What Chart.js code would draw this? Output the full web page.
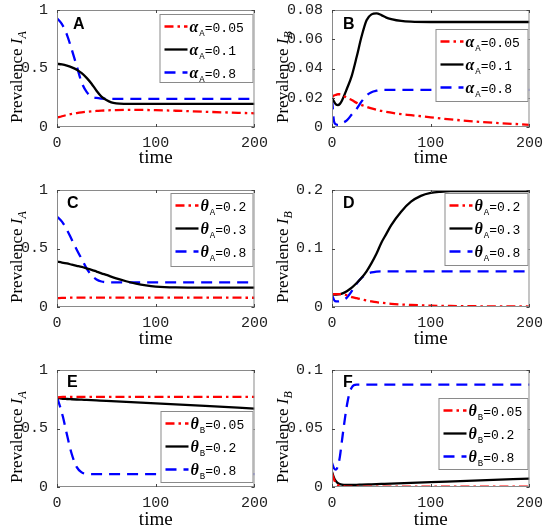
<!DOCTYPE html>
<html>
<head>
<meta charset="utf-8">
<script src="https://cdn.jsdelivr.net/npm/chart.js@4.4.0/dist/chart.umd.min.js"></script>
<style>
  body { margin: 0; background: #fff; width: 550px; height: 531px; position: relative; overflow: hidden; }
  canvas { position: absolute; }
</style>
</head>
<body>
<canvas id="cA" width="275" height="169" style="left:0;top:0"></canvas>
<canvas id="cB" width="275" height="169" style="left:275px;top:0"></canvas>
<canvas id="cC" width="275" height="175" style="left:0;top:175px"></canvas>
<canvas id="cD" width="275" height="175" style="left:275px;top:175px"></canvas>
<canvas id="cE" width="275" height="181" style="left:0;top:350px"></canvas>
<canvas id="cF" width="275" height="181" style="left:275px;top:350px"></canvas>
<script>
// time axis
var xTicks = [0, 100, 200];

// panel A : alpha_A, prevalence I_A
var tA = [0, 5, 10, 15, 20, 25, 30, 35, 40, 45, 50, 55, 60, 70, 80, 100, 120, 150, 200];
var aRed = [.080, .092, .103, .112, .119, .125, .130, .134, .137, .140, .142, .144, .145, .146, .146, .144, .139, .130, .117];
var aBlack = [.54, .535, .525, .51, .49, .46, .42, .37, .31, .26, .23, .21, .202, .198, .197, .197, .197, .197, .197];
var aBlue = [.93, .88, .79, .66, .52, .38, .30, .26, .248, .243, .241, .24, .24, .24, .24, .24, .24, .24, .24];

// panel B : alpha_A, prevalence I_B
var tB = [0, 2, 4, 6, 8, 10, 15, 20, 25, 30, 35, 40, 45, 50, 55, 60, 70, 80, 100, 120, 150, 200];
var bRed = [.0205, .0215, .022, .0224, .0224, .022, .020, .0185, .0165, .015, .0138, .0127, .0118, .011, .0104, .0098, .0088, .0081, .0066, .0052, .0035, .0015];
var bBlack = [.020, .0175, .0155, .015, .0158, .018, .026, .035, .048, .062, .073, .077, .0777, .0765, .0748, .0738, .0725, .072, .0718, .0718, .0718, .0718];
var bBlue = [.0196, .004, .0018, .0014, .0016, .0025, .0045, .0085, .0125, .0175, .0215, .0238, .0248, .0253, .0254, .0254, .0254, .0254, .0254, .0254, .0254, .0254];

// panel C : theta_A, prevalence I_A
var tC = [0, 5, 10, 15, 20, 25, 30, 35, 40, 45, 50, 60, 70, 80, 90, 100, 120, 150, 200];
var cRed = [.076, .078, .079, .08, .08, .08, .08, .08, .08, .08, .08, .08, .08, .08, .08, .08, .08, .08, .079];
var cBlack = [.387, .38, .372, .362, .352, .342, .33, .318, .303, .288, .274, .245, .22, .2, .185, .175, .167, .165, .165];
var cBlue = [.772, .73, .66, .575, .49, .41, .33, .27, .235, .218, .212, .21, .21, .21, .21, .21, .21, .21, .21];

// panel D : theta_A, prevalence I_B
var tD = [0, 3, 6, 10, 15, 20, 25, 30, 35, 40, 45, 50, 55, 60, 70, 80, 90, 100, 110, 120, 150, 200];
var dRed = [.0217, .022, .022, .022, .020, .017, .015, .013, .011, .0095, .0082, .0072, .0063, .0055, .0043, .0035, .0028, .0023, .002, .0017, .0012, .0008];
var dBlack = [.0217, .021, .0215, .023, .027, .033, .041, .05, .061, .075, .091, .11, .125, .14, .163, .18, .19, .195, .197, .198, .198, .198];
var dBlue = [.0205, .01, .0095, .011, .016, .027, .04, .05, .056, .059, .0605, .061, .061, .061, .061, .061, .061, .061, .061, .061, .061, .061];

// panel E : theta_B, prevalence I_A
var tE = [0, 3, 6, 10, 15, 20, 25, 30, 40, 50, 100, 150, 200];
var eRed = [.765, .768, .77, .771, .771, .771, .771, .771, .771, .771, .771, .771, .771];
var eBlack = [.765, .758, .754, .752, .75, .748, .746, .744, .74, .736, .715, .693, .67];
var eBlue = [.77, .69, .6, .45, .28, .17, .125, .112, .11, .11, .11, .11, .11];

// panel F : theta_B, prevalence I_B
var tF = [0, 2, 4, 6, 8, 10, 12, 14, 16, 18, 20, 22, 25, 30, 40, 50, 100, 150, 200];
var fRed = [.012, .0065, .0032, .0016, .0009, .0006, .0005, .0004, .0004, .0004, .0004, .0004, .0004, .0004, .0004, .0004, .0004, .0003, .0003];
var fBlack = [.013, .008, .005, .0032, .0024, .002, .0018, .0017, .0017, .0017, .0018, .0018, .0019, .002, .0023, .0026, .0041, .0056, .0072];
var fBlue = [.0205, .016, .0148, .018, .026, .039, .052, .064, .074, .081, .085, .087, .0875, .0875, .0875, .0875, .0875, .0875, .0875];

// parameter values in the legends
var alphaA = ['0.05', '0.1', '0.8'];
var thetaA = ['0.2', '0.3', '0.8'];
var thetaB = ['0.05', '0.2', '0.8'];

// y ticks
var ticksIA = [0, 0.5, 1];
var labelsIA = ['0', '0.5', '1'];
var ticksB1 = [0, 0.02, 0.04, 0.06, 0.08];
var labelsB1 = ['0', '0.02', '0.04', '0.06', '0.08'];
var ticksB2 = [0, 0.1, 0.2];
var labelsB2 = ['0', '0.1', '0.2'];
var ticksB3 = [0, 0.05, 0.1];
var labelsB3 = ['0', '0.05', '0.1'];

var frameColor = '#8a8a8a';
var mono = '"Liberation Mono", monospace';
var serif = '"Liberation Serif", serif';

var decor = {
    id: 'decor',
    afterDatasetsDraw: function(chart, args, o) {
        var ctx = chart.ctx, a = chart.chartArea;
        var xs = chart.scales.x, ys = chart.scales.y;
        ctx.save();
        // box and inward ticks
        ctx.strokeStyle = frameColor;
        ctx.lineWidth = 1;
        ctx.strokeRect(a.left + 0.5, a.top + 0.5, a.width - 1, a.height - 1);
        ctx.strokeStyle = '#444';
        ctx.beginPath();
        xs.ticks.forEach(function(t) {
            var px = Math.round(xs.getPixelForValue(t.value)) + 0.5;
            ctx.moveTo(px, a.bottom); ctx.lineTo(px, a.bottom - 3);
            ctx.moveTo(px, a.top); ctx.lineTo(px, a.top + 3);
        });
        ys.ticks.forEach(function(t) {
            var py = Math.round(ys.getPixelForValue(t.value)) + 0.5;
            ctx.moveTo(a.left, py); ctx.lineTo(a.left + 3, py);
            ctx.moveTo(a.right, py); ctx.lineTo(a.right - 3, py);
        });
        ctx.stroke();

        // panel letter
        ctx.fillStyle = '#000';
        ctx.font = 'bold 16px "Liberation Sans", sans-serif';
        ctx.textBaseline = 'alphabetic';
        ctx.fillText(o.letter, a.left + o.letterDx, a.top + o.letterDy);

        // legend
        var L = o.legend;
        var bx = a.right - 1 - L.w, by = a.top + L.top;
        ctx.fillStyle = '#fff';
        ctx.fillRect(bx, by, L.w, L.h);
        ctx.strokeStyle = frameColor;
        ctx.strokeRect(bx + 0.5, by + 0.5, L.w - 1, L.h - 1);
        chart.data.datasets.forEach(function(ds, i) {
            var yy = by + 12.5 + i * 23;
            ctx.strokeStyle = ds.borderColor;
            ctx.lineWidth = ds.borderWidth;
            ctx.setLineDash(ds.borderDash || []);
            ctx.beginPath();
            ctx.moveTo(bx + 5, yy); ctx.lineTo(bx + 28, yy);
            ctx.stroke();
            ctx.setLineDash([]);
            var tx = bx + 30;
            ctx.fillStyle = '#000';
            ctx.font = 'italic bold 16px ' + serif;
            ctx.fillText(o.sym, tx, yy + 5);
            tx += ctx.measureText(o.sym).width + 1;
            ctx.font = '9px ' + mono;
            ctx.fillText(o.sub, tx, yy + 9);
            tx += ctx.measureText(o.sub).width;
            ctx.font = '13px ' + mono;
            ctx.fillText('=' + ds.label, tx, yy + 5);
        });

        // y axis title: Prevalence I_A / I_B
        ctx.translate(o.ylabX, a.bottom - 4);
        ctx.rotate(-Math.PI / 2);
        ctx.fillStyle = '#000';
        ctx.font = '17px ' + serif;
        var s = 'Prevalence ';
        ctx.fillText(s, 0, 0);
        var w = ctx.measureText(s).width;
        ctx.font = 'italic 17px ' + serif;
        ctx.fillText('I', w, 0);
        w += ctx.measureText('I').width;
        ctx.font = 'italic 12px ' + serif;
        ctx.fillText(o.ysub, w, 4);
        ctx.restore();
    }
};

function makeChart(id, t, red, black, blue, params, yMax, yTicks, yLabels, look) {
    function pts(v) { return t.map(function(x, i) { return {x: x, y: v[i]}; }); }
    var ctx = document.getElementById(id).getContext('2d');
    return new Chart(ctx, {
        type: 'line',
        data: {
            datasets: [
                {label: params[0], data: pts(red), borderColor: '#ff0000', borderWidth: 2.3, borderDash: [9, 4, 2.5, 4]},
                {label: params[1], data: pts(black), borderColor: '#000000', borderWidth: 2.3},
                {label: params[2], data: pts(blue), borderColor: '#0000ff', borderWidth: 2.3, borderDash: [11, 7]}
            ]
        },
        options: {
            responsive: false,
            animation: false,
            events: [],
            elements: {point: {radius: 0}, line: {cubicInterpolationMode: 'monotone'}},
            layout: {padding: {left: 0, right: look.right, top: look.top, bottom: 0}},
            scales: {
                x: {
                    type: 'linear', min: 0, max: 200,
                    afterBuildTicks: function(s) { s.ticks = xTicks.map(function(v) { return {value: v}; }); },
                    afterFit: function(s) { s.height = look.xh; },
                    grid: {display: false, drawTicks: false},
                    border: {display: false},
                    ticks: {padding: 7, maxRotation: 0, color: '#222', font: {family: mono, size: 15},
                            callback: function(v) { return String(v); }},
                    title: {display: true, text: 'time', color: '#000', padding: {top: 0, bottom: 0},
                            font: {family: serif, size: 19}}
                },
                y: {
                    type: 'linear', min: 0, max: yMax,
                    afterBuildTicks: function(s) { s.ticks = yTicks.map(function(v) { return {value: v}; }); },
                    // fixed axis width, and no extra room asked for the end labels
                    afterFit: function(s) { s.width = 57; s.paddingTop = 0; s.paddingBottom = 0; },
                    grid: {display: false, drawTicks: false},
                    border: {display: false},
                    ticks: {padding: 9, color: '#222', font: {family: mono, size: 15},
                            callback: function(v, i) { return yLabels[i]; }}
                }
            },
            plugins: {
                legend: {display: false},
                tooltip: {enabled: false},
                decor: look
            }
        },
        plugins: [decor]
    });
}

makeChart('cA', tA, aRed, aBlack, aBlue, alphaA, 1, ticksIA, labelsIA,
    {right: 19, top: 10, xh: 42, letter: 'A', letterDx: 16, letterDy: 19, sym: 'α', sub: 'A', ysub: 'A', ylabX: 22,
     legend: {w: 94, top: 4, h: 69}});
makeChart('cB', tB, bRed, bBlack, bBlue, alphaA, 0.08, ticksB1, labelsB1,
    {right: 18, top: 10, xh: 42, letter: 'B', letterDx: 11, letterDy: 19, sym: 'α', sub: 'A', ysub: 'B', ylabX: 13,
     legend: {w: 93, top: 19, h: 73}});
makeChart('cC', tC, cRed, cBlack, cBlue, thetaA, 1, ticksIA, labelsIA,
    {right: 19, top: 15, xh: 43, letter: 'C', letterDx: 10, letterDy: 18, sym: 'θ', sub: 'A', ysub: 'A', ylabX: 22,
     legend: {w: 83, top: 3, h: 74}});
makeChart('cD', tD, dRed, dBlack, dBlue, thetaA, 0.2, ticksB2, labelsB2,
    {right: 18, top: 15, xh: 43, letter: 'D', letterDx: 11, letterDy: 18, sym: 'θ', sub: 'A', ysub: 'B', ylabX: 13,
     legend: {w: 84, top: 3, h: 73}});
makeChart('cE', tE, eRed, eBlack, eBlue, thetaB, 1, ticksIA, labelsIA,
    {right: 19, top: 20, xh: 44, letter: 'E', letterDx: 10, letterDy: 17, sym: 'θ', sub: 'B', ysub: 'A', ylabX: 22,
     legend: {w: 93, top: 41, h: 72}});
makeChart('cF', tF, fRed, fBlack, fBlue, thetaB, 0.1, ticksB3, labelsB3,
    {right: 18, top: 20, xh: 44, letter: 'F', letterDx: 11, letterDy: 17, sym: 'θ', sub: 'B', ysub: 'B', ylabX: 13,
     legend: {w: 90, top: 28, h: 72}});
</script>
</body>
</html>
